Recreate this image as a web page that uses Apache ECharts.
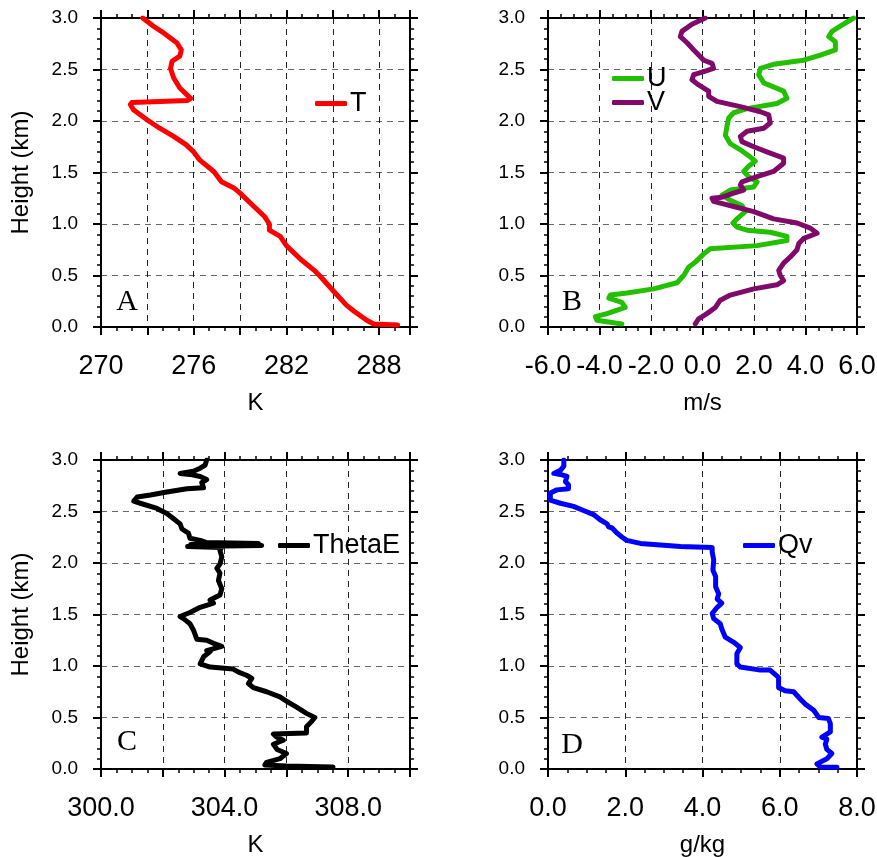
<!DOCTYPE html>
<html>
<head>
<meta charset="utf-8">
<script src="https://cdn.jsdelivr.net/npm/echarts@6/dist/echarts.min.js"></script>
<style>
  html, body { margin: 0; padding: 0; background: #fff; }
  #chart { width: 877px; height: 857px; }
</style>
</head>
<body>
<div id="chart"></div>
<script>
// panel A: temperature
var tHeight = [0.02, 0.03, 0.065, 0.15, 0.21, 0.34, 0.49, 0.55, 0.66, 0.79, 0.88, 0.94, 1.0, 1.07, 1.17, 1.30, 1.35, 1.41, 1.51, 1.62,
               1.70, 1.77, 1.85, 1.93, 2.01, 2.11, 2.16, 2.18, 2.20, 2.22, 2.32, 2.42, 2.51, 2.58, 2.63, 2.69, 2.76, 2.85, 2.92, 3.0];
var tempK = [289.2, 287.65, 287.2, 286.4, 285.9, 285.1, 284.2, 283.8, 282.9, 282.0, 281.6, 280.9, 280.9, 280.6, 279.9, 279.0, 278.6, 277.8, 277.3, 276.4,
             276.0, 275.5, 274.7, 273.8, 273.0, 272.1, 271.9, 272.0, 275.6, 275.8, 275.1, 274.7, 274.5, 274.6, 275.1, 275.2, 274.9, 274.1, 273.4, 272.7];

// panel B: wind
var uHeight = [0.03, 0.065, 0.10, 0.13, 0.19, 0.24, 0.28, 0.31, 0.33, 0.37, 0.43, 0.50, 0.58, 0.63, 0.71, 0.76, 0.79, 0.84, 0.88, 0.92,
               0.94, 0.97, 1.01, 1.05, 1.12, 1.18, 1.23, 1.28, 1.33, 1.36, 1.41, 1.46, 1.51, 1.56, 1.61, 1.65, 1.72, 1.78, 1.86, 1.95,
               2.03, 2.08, 2.12, 2.17, 2.22, 2.29, 2.37, 2.45, 2.51, 2.55, 2.59, 2.64, 2.69, 2.77, 2.82, 2.87, 2.92, 3.0];
var windU = [-3.13, -4.10, -4.16, -3.71, -3.0, -3.13, -3.64, -3.58, -2.93, -1.90, -0.99, -0.73, -0.54, -0.28, 0.05, 0.30, 2.12, 3.28, 3.28, 2.63,
             1.73, 1.34, 1.18, 1.34, 1.66, 1.53, 1.08, 0.76, 1.08, 1.99, 2.12, 1.79, 1.60, 1.79, 2.05, 1.86, 1.47, 1.08, 0.89, 0.95,
             1.02, 1.21, 1.73, 2.89, 3.28, 3.15, 2.38, 2.18, 2.25, 2.76, 3.93, 4.58, 5.16, 5.16, 4.90, 5.03, 5.35, 5.87];
var vHeight = [0.03, 0.08, 0.13, 0.19, 0.26, 0.31, 0.37, 0.41, 0.45, 0.50, 0.55, 0.62, 0.68, 0.75, 0.81, 0.86, 0.91, 0.96, 1.01, 1.05,
               1.12, 1.17, 1.22, 1.25, 1.26, 1.30, 1.33, 1.38, 1.41, 1.46, 1.51, 1.59, 1.64, 1.70, 1.75, 1.80, 1.85, 1.90, 1.93, 1.98,
               2.06, 2.09, 2.14, 2.19, 2.24, 2.29, 2.32, 2.35, 2.40, 2.45, 2.48, 2.51, 2.56, 2.59, 2.69, 2.76, 2.82, 2.87, 2.94, 3.0];
var windV = [-0.28, -0.15, 0.17, 0.50, 0.69, 1.08, 1.99, 2.89, 3.15, 3.02, 2.96, 3.15, 3.41, 3.67, 3.74, 3.93, 4.45, 4.19, 3.67, 2.76,
             1.99, 1.21, 0.43, 0.37, 0.76, 1.21, 1.60, 1.47, 1.53, 2.12, 2.76, 3.15, 3.15, 2.50, 1.99, 1.53, 1.47, 1.73, 2.38, 2.63,
             2.57, 2.25, 1.47, 0.56, 0.24, 0.24, 0.05, -0.15, -0.41, -0.34, 0.05, 0.43, 0.37, 0.05, -0.34, -0.60, -0.86, -0.80, -0.41, 0.11];

// panel C: equivalent potential temperature
var thHeight = [0.02, 0.03, 0.04, 0.065, 0.10, 0.15, 0.19, 0.24, 0.28, 0.31, 0.34, 0.35, 0.41, 0.46, 0.50, 0.54, 0.60, 0.66, 0.70, 0.75,
                0.79, 0.83, 0.88, 0.91, 0.94, 0.97, 0.99, 1.02, 1.09, 1.14, 1.15, 1.19, 1.22, 1.25, 1.26, 1.35, 1.41, 1.46, 1.48, 1.52,
                1.57, 1.61, 1.64, 1.69, 1.75, 1.83, 1.90, 1.95, 1.99, 2.06, 2.12, 2.15, 2.16, 2.17, 2.18, 2.19, 2.20, 2.22, 2.24, 2.29,
                2.33, 2.38, 2.43, 2.48, 2.53, 2.58, 2.60, 2.64, 2.66, 2.69, 2.72, 2.73, 2.78, 2.81, 2.84, 2.86, 2.87, 2.89, 2.92, 2.95, 3.0];
var thetaE = [307.51, 306.0, 305.3, 305.36, 305.79, 306.0, 305.7, 305.58, 305.9, 305.68, 305.58, 306.65, 306.65, 306.81, 306.92, 306.65, 306.33, 306.0, 305.79, 305.36,
              304.93, 304.77, 304.88, 304.71, 304.45, 304.28, 303.53, 303.21, 303.32, 303.53, 303.42, 303.91, 303.64, 303.42, 303.10, 302.99, 302.88, 302.67, 302.56, 302.88,
              303.21, 303.64, 303.53, 303.85, 303.91, 303.80, 303.85, 303.75, 303.85, 303.91, 303.85, 303.9, 302.8, 305.2, 302.9, 305.1, 303.4, 303.21, 302.88, 302.83,
              302.62, 302.56, 302.35, 302.13, 301.81, 301.27, 301.06, 301.17, 301.60, 302.13, 302.78, 303.32, 303.26, 303.42, 303.21, 302.88, 302.56, 302.99, 303.21, 303.37, 303.42];

// panel D: water vapour mixing ratio
var qHeight = [0.016, 0.02, 0.05, 0.10, 0.15, 0.19, 0.24, 0.29, 0.31, 0.36, 0.44, 0.49, 0.50, 0.57, 0.63, 0.68, 0.75, 0.76, 0.79, 0.89,
               0.96, 0.96, 0.99, 1.02, 1.12, 1.18, 1.23, 1.28, 1.36, 1.41, 1.46, 1.51, 1.57, 1.61, 1.65, 1.70, 1.77, 1.87, 1.93, 2.03,
               2.11, 2.15, 2.16, 2.19, 2.22, 2.25, 2.29, 2.34, 2.35, 2.38, 2.42, 2.47, 2.51, 2.55, 2.58, 2.61, 2.68, 2.71, 2.72, 2.76,
               2.79, 2.84, 2.86, 2.87, 2.90, 2.94, 3.0];
var qv = [7.48, 7.05, 6.96, 7.22, 7.35, 7.22, 7.18, 7.22, 7.09, 7.31, 7.31, 7.26, 7.01, 6.88, 6.66, 6.53, 6.36, 6.14, 5.97, 5.97,
          5.75, 5.50, 4.98, 4.89, 4.89, 4.98, 4.81, 4.59, 4.50, 4.46, 4.29, 4.25, 4.38, 4.50, 4.38, 4.42, 4.34, 4.34, 4.27, 4.29,
          4.25, 4.25, 3.43, 2.39, 2.04, 1.92, 1.79, 1.66, 1.57, 1.53, 1.35, 1.18, 0.92, 0.66, 0.32, 0.06, 0.06, 0.23, 0.53, 0.53,
          0.45, 0.49, 0.32, 0.15, 0.32, 0.41, 0.41];

var heightTicks = [0, 3, 0.5];
var panelLetters = ['A', 'B', 'C', 'D'];

function pairs(xs, ys) {
    var out = [];
    for (var i = 0; i < xs.length; i++) out.push([xs[i], ys[i]]);
    return out;
}

var FONT = 'Liberation Sans';
// fixed plot boxes; outerBoundsMode none keeps echarts from shrinking them
var grids = [
    {left: 101, top: 18, width: 309, height: 309, outerBoundsMode: 'none'},
    {left: 548, top: 18, width: 309, height: 309, outerBoundsMode: 'none'},
    {left: 101, top: 460, width: 309, height: 309, outerBoundsMode: 'none'},
    {left: 548, top: 460, width: 309, height: 309, outerBoundsMode: 'none'}
];

function xAxes(gi, min, max, interval, minorSplit, fmt, name) {
    var bottom = {
        type: 'value', gridIndex: gi, position: 'bottom', min: min, max: max, interval: interval,
        name: name, nameLocation: 'middle', nameGap: 64,
        nameTextStyle: {fontFamily: FONT, fontSize: 24, color: '#000'},
        axisLine: {show: true, onZero: false, lineStyle: {color: '#000', width: 2}},
        axisTick: {show: true, length: 8, lineStyle: {color: '#000', width: 2}},
        minorTick: {show: true, splitNumber: minorSplit, length: 4, lineStyle: {color: '#000', width: 1.5}},
        axisLabel: {formatter: fmt, margin: 26, fontFamily: FONT, fontSize: 27, color: '#000', showMinLabel: true, showMaxLabel: true, hideOverlap: false},
        splitLine: {show: true, lineStyle: {color: '#222', type: [6, 5], width: 1}}
    };
    var top = {
        type: 'value', gridIndex: gi, position: 'top', min: min, max: max, interval: interval,
        axisLine: {show: true, onZero: false, lineStyle: {color: '#000', width: 2}},
        axisTick: {show: true, length: 8, lineStyle: {color: '#000', width: 2}},
        minorTick: {show: true, splitNumber: minorSplit, length: 4, lineStyle: {color: '#000', width: 1.5}},
        axisLabel: {show: false},
        splitLine: {show: false}
    };
    return [bottom, top];
}

function yAxes(gi, showName) {
    var left = {
        type: 'value', gridIndex: gi, position: 'left', min: heightTicks[0], max: heightTicks[1], interval: heightTicks[2],
        name: showName ? 'Height (km)' : '', nameLocation: 'middle', nameGap: 68,
        nameTextStyle: {fontFamily: FONT, fontSize: 24, color: '#000'},
        axisLine: {show: true, onZero: false, lineStyle: {color: '#000', width: 2}},
        axisTick: {show: true, length: 8, lineStyle: {color: '#000', width: 2}},
        minorTick: {show: true, splitNumber: 5, length: 4, lineStyle: {color: '#000', width: 1.5}},
        axisLabel: {formatter: function (v) { return v.toFixed(1); }, margin: 23, fontFamily: FONT, fontSize: 19, color: '#000'},
        splitLine: {show: true, lineStyle: {color: '#666', type: [6, 5], width: 1}}
    };
    var right = {
        type: 'value', gridIndex: gi, position: 'right', min: heightTicks[0], max: heightTicks[1], interval: heightTicks[2],
        axisLine: {show: true, onZero: false, lineStyle: {color: '#000', width: 2}},
        axisTick: {show: true, length: 8, lineStyle: {color: '#000', width: 2}},
        minorTick: {show: true, splitNumber: 5, length: 4, lineStyle: {color: '#000', width: 1.5}},
        axisLabel: {show: false},
        splitLine: {show: false}
    };
    return [left, right];
}

var xAxisList = []
    .concat(xAxes(0, 270, 290, 3, 3, function (v) { return (v - 270) % 6 === 0 ? String(v) : ''; }, 'K'))
    .concat(xAxes(1, -6, 6, 2, 4, function (v) { return v.toFixed(1); }, 'm/s'))
    .concat(xAxes(2, 300, 310, 2, 4, function (v) { return (v - 300) % 4 === 0 ? v.toFixed(1) : ''; }, 'K'))
    .concat(xAxes(3, 0, 8, 2, 4, function (v) { return v.toFixed(1); }, 'g/kg'));

var yAxisList = []
    .concat(yAxes(0, true))
    .concat(yAxes(1, false))
    .concat(yAxes(2, true))
    .concat(yAxes(3, false));

function line(name, xi, yi, data, color) {
    return {
        name: name, type: 'line', xAxisIndex: xi, yAxisIndex: yi, data: data,
        showSymbol: false, symbol: 'none', animation: false, clip: true,
        lineStyle: {color: color, width: 5, cap: 'round', join: 'round'},
        itemStyle: {color: color}
    };
}

function legend(name, left, top) {
    return {
        data: [name], left: left, top: top, padding: 0, icon: 'roundRect',
        itemWidth: 32, itemHeight: 5, selectedMode: false,
        textStyle: {fontFamily: FONT, fontSize: 27, color: '#000', lineHeight: 24, padding: [0, 0, 0, -2]}
    };
}

var letterPos = [[127, 302], [572, 302], [127, 742], [572, 745]];
var graphics = panelLetters.map(function (t, i) {
    return {
        type: 'text', x: letterPos[i][0], y: letterPos[i][1],
        style: {text: t, font: '30px "Liberation Serif"', fill: '#000', textAlign: 'center', textVerticalAlign: 'middle'}
    };
});

var chart = echarts.init(document.getElementById('chart'));
chart.setOption({
    backgroundColor: '#fff',
    animation: false,
    grid: grids,
    xAxis: xAxisList,
    yAxis: yAxisList,
    legend: [
        legend('T', 315, 90),
        legend('U', 612, 65),
        legend('V', 612, 89),
        legend('ThetaE', 278, 532),
        legend('Qv', 743, 532)
    ],
    graphic: graphics,
    series: [
        line('T', 0, 0, pairs(tempK, tHeight), '#ff0000'),
        line('U', 2, 2, pairs(windU, uHeight), '#22c000'),
        line('V', 2, 2, pairs(windV, vHeight), '#7f0a6a'),
        line('ThetaE', 4, 4, pairs(thetaE, thHeight), '#000000'),
        line('Qv', 6, 6, pairs(qv, qHeight), '#0000ff')
    ]
});
</script>
</body>
</html>
